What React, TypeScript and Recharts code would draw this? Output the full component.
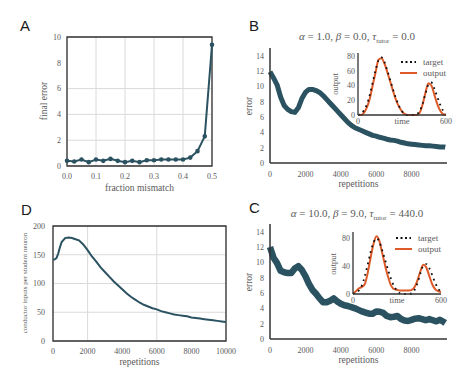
import React from 'react';
import { LineChart, Line, XAxis, YAxis, CartesianGrid, ReferenceArea, Legend } from 'recharts';

// ---- panel A: final error vs fraction mismatch
const mismatch = [0, 0.025, 0.05, 0.075, 0.1, 0.125, 0.15, 0.175, 0.2, 0.225, 0.25, 0.275, 0.3, 0.325, 0.35, 0.375, 0.4, 0.425, 0.45, 0.475, 0.5];
const finalError = [0.4, 0.35, 0.5, 0.3, 0.5, 0.4, 0.55, 0.4, 0.3, 0.4, 0.3, 0.45, 0.45, 0.5, 0.5, 0.5, 0.5, 0.65, 1.15, 2.3, 9.4];
const mismatchTicks = [0, 0.1, 0.2, 0.3, 0.4, 0.5];
const finalErrorTicks = [0, 2, 4, 6, 8, 10];

// ---- panels B and C: error vs repetitions
const repetitions = [0, 200, 400, 600, 800, 1000, 1200, 1400, 1600, 1800, 2000, 2200, 2400, 2600, 2800, 3000, 3200, 3400, 3600, 3800, 4000, 4200, 4400, 4600, 4800, 5000, 5200, 5400, 5600, 5800, 6000, 6200, 6400, 6600, 6800, 7000, 7200, 7400, 7600, 7800, 8000, 8200, 8400, 8600, 8800, 9000, 9200, 9400, 9600, 9800, 9900];
const errorB = [11.9, 11.1, 10.2, 8.6, 7.5, 7.0, 6.7, 6.6, 7.2, 8.4, 9.2, 9.6, 9.6, 9.45, 9.2, 8.8, 8.3, 7.8, 7.3, 6.8, 6.3, 5.8, 5.3, 4.9, 4.6, 4.4, 4.2, 4.0, 3.8, 3.6, 3.5, 3.35, 3.25, 3.1, 3.0, 2.95, 2.85, 2.7, 2.6, 2.5, 2.45, 2.4, 2.35, 2.3, 2.25, 2.25, 2.2, 2.15, 2.1, 2.1, 2.05];
const errorC = [12.0, 10.6, 9.9, 8.9, 8.7, 8.6, 8.6, 9.2, 9.5, 9.0, 8.2, 7.2, 6.4, 5.9, 5.3, 4.8, 4.8, 5.0, 5.3, 4.9, 4.6, 4.4, 4.3, 4.15, 4.0, 3.8, 3.6, 3.45, 3.3, 3.3, 3.6, 3.55, 3.4, 3.0, 2.85, 2.9, 3.0, 2.6, 2.4, 2.35, 2.5, 2.65, 2.7, 2.6, 2.45, 2.6, 2.45, 2.3, 2.5, 2.25, 2.1];
const repTicks = [0, 2000, 4000, 6000, 8000];
const errorTicks = [0, 2, 4, 6, 8, 10, 12, 14];

// ---- insets: target vs output over time
const time = [0, 20, 40, 60, 80, 100, 120, 140, 160, 180, 200, 220, 240, 260, 280, 300, 320, 340, 360, 380, 400, 420, 440, 460, 480, 500, 520, 540, 560, 580, 600];
const targetB = [0, 2, 6, 14, 27, 44, 61, 74, 78, 72, 60, 47, 34, 22, 12, 5, 1, 0, 0, 0, 1, 5, 15, 29, 41, 44, 36, 25, 14, 6, 2];
const outputB = [0, 0, 3, 10, 22, 40, 58, 75, 77, 70, 58, 45, 32, 20, 11, 5, 1, 0, 0, 0, 0, 3, 14, 30, 43, 40, 28, 15, 6, 1, 0];
const targetC = [0, 2, 5, 12, 25, 42, 60, 74, 80, 75, 62, 48, 34, 21, 11, 5, 1, 0, 0, 0, 1, 6, 16, 30, 41, 43, 37, 27, 16, 8, 3];
const outputC = [1, 4, 8, 10, 14, 30, 52, 72, 83, 76, 58, 40, 24, 12, 7, 6, 5, 5, 5, 5, 6, 10, 20, 33, 42, 38, 26, 14, 7, 4, 3];
const timeTicks = [0, 600];
const outputTicks = [0, 20, 40, 60, 80];

// ---- panel D: conductor inputs per student neuron
const repetitionsD = [0, 100, 200, 300, 400, 500, 700, 900, 1100, 1300, 1500, 1750, 2000, 2250, 2500, 2750, 3000, 3250, 3500, 3750, 4000, 4250, 4500, 4750, 5000, 5250, 5500, 5750, 6000, 6250, 6500, 6750, 7000, 7250, 7500, 7750, 8000, 8250, 8500, 8750, 9000, 9250, 9500, 9750, 10000];
const conductorInputs = [141, 142, 144, 152, 163, 172, 179, 180, 179, 177, 175, 168, 158, 147, 138, 128, 120, 112, 104, 97, 90, 83, 77, 72, 67, 63, 60, 57, 55, 52, 50, 48, 46, 45, 44, 43, 41, 40, 39, 38, 37, 36, 35, 34, 33];
const repTicksD = [0, 2000, 4000, 6000, 8000, 10000];
const inputTicks = [0, 50, 100, 150, 200];

const dataA = mismatch.map((x, i) => ({ x, err: finalError[i] }));
const dataB = repetitions.map((x, i) => ({ x, err: errorB[i] }));
const dataC = repetitions.map((x, i) => ({ x, err: errorC[i] }));
const dataD = repetitionsD.map((x, i) => ({ x, n: conductorInputs[i] }));
const insetB = time.map((t, i) => ({ t, target: targetB[i], output: outputB[i] }));
const insetC = time.map((t, i) => ({ t, target: targetC[i], output: outputC[i] }));

const SERIF = '"Liberation Serif", "DejaVu Serif", serif';
const TEXT = '#5a5a5a';
const SPINE = '#333';
const TEAL = '#2b5260';
const ORANGE = '#de5a28';
const GRID = '#dadada';

const tick = { fontSize: 8, fill: TEXT, fontFamily: SERIF };
const axisLabel = (value: string, offset: number) => ({
  value,
  position: 'insideBottom' as const,
  offset,
  fontSize: 9.5,
  fill: TEXT,
  fontFamily: SERIF,
});

const abs = (left: number, top: number): React.CSSProperties => ({ position: 'absolute', left, top });

const Letter = ({ x, y, children }: { x: number; y: number; children: React.ReactNode }) => (
  <div style={{ ...abs(x, y), fontFamily: '"Liberation Sans", Arial, sans-serif', fontSize: 15, lineHeight: '15px', color: '#1a1a1a' }}>
    {children}
  </div>
);

const Centered = ({ x, y, size, rotate, children }: { x: number; y: number; size: number; rotate?: boolean; children: React.ReactNode }) => (
  <div
    style={{
      ...abs(x, y),
      transform: `translate(-50%, -50%)${rotate ? ' rotate(-90deg)' : ''}`,
      whiteSpace: 'nowrap',
      fontFamily: SERIF,
      fontSize: size,
      lineHeight: `${size}px`,
      color: TEXT,
    }}
  >
    {children}
  </div>
);

const Title = ({ x, y, a, b, tau }: { x: number; y: number; a: string; b: string; tau: string }) => (
  <Centered x={x} y={y} size={11}>
    <i>α</i> = {a}, <i>β</i> = {b}, <i>τ</i>
    <sub style={{ fontSize: 7 }}>tutor</sub> = {tau}
  </Centered>
);

const legendOrder = ['target', 'output'];
const InsetLegend = () => (
  <div style={{ fontFamily: SERIF, fontSize: 9, color: TEXT, lineHeight: '10px' }}>
    {legendOrder.map((name) => (
      <div key={name} style={{ display: 'flex', alignItems: 'center', height: 10.5 }}>
        <svg width={18} height={8} style={{ marginRight: 5 }}>
          {name === 'target' ? (
            <line x1={1} y1={4} x2={16} y2={4} stroke="#111" strokeWidth={2} strokeDasharray="2 2.5" />
          ) : (
            <line x1={0} y1={4} x2={17} y2={4} stroke={ORANGE} strokeWidth={2} />
          )}
        </svg>
        {name}
      </div>
    ))}
  </div>
);

const Inset = ({ data, left, top, ymax, legendTop }: { data: any[]; left: number; top: number; ymax: number; legendTop: number }) => (
  <div style={abs(left, top)}>
    <LineChart width={122} height={80} data={data} margin={{ top: 4, right: 14, bottom: 0, left: 0 }}>
      <XAxis
        type="number"
        dataKey="t"
        domain={[0, 600]}
        ticks={timeTicks}
        height={14}
        tickSize={0}
        tickMargin={3}
        tick={tick}
        tickLine={false}
        stroke={SPINE}
        strokeWidth={1.3}
        label={{ ...axisLabel('time', 5), fontSize: 8.5 }}
      />
      <YAxis
        type="number"
        domain={[0, ymax]}
        ticks={outputTicks}
        width={20}
        tickSize={0}
        tickMargin={3}
        tick={tick}
        tickLine={false}
        stroke={SPINE}
        strokeWidth={1.3}
      />
      <Legend layout="vertical" align="center" verticalAlign="middle" wrapperStyle={{ left: 62, top: legendTop, width: 'auto' }} content={() => <InsetLegend />} />
      <Line name="output" type="monotone" dataKey="output" stroke={ORANGE} strokeWidth={2} dot={false} isAnimationActive={false} />
      <Line name="target" type="monotone" dataKey="target" stroke="#111" strokeWidth={1.8} strokeDasharray="1.8 4" dot={false} isAnimationActive={false} />
    </LineChart>
  </div>
);

const ErrorPanel = ({ data, left, top, strokeWidth }: { data: any[]; left: number; top: number; strokeWidth: number }) => (
  <div style={abs(left, top)}>
    <LineChart width={215} height={150} data={data} margin={{ top: 5, right: 8, bottom: 0, left: 0 }}>
      <XAxis
        type="number"
        dataKey="x"
        domain={[0, 10000]}
        ticks={repTicks}
        height={30}
        tickSize={0}
        tickMargin={8}
        tick={tick}
        tickLine={false}
        stroke={SPINE}
        strokeWidth={1.5}
        label={axisLabel('repetitions', 6)}
      />
      <YAxis
        type="number"
        domain={[0, 15]}
        ticks={errorTicks}
        width={30}
        tickSize={0}
        tickMargin={6}
        tick={tick}
        tickLine={false}
        stroke={SPINE}
        strokeWidth={1.5}
      />
      <Line type="linear" dataKey="err" stroke={TEAL} strokeWidth={strokeWidth} strokeLinejoin="round" dot={false} isAnimationActive={false} />
    </LineChart>
  </div>
);

export default function App() {
  return (
    <div style={{ position: 'absolute', left: 0, top: 0, width: 474, height: 387, background: '#fff', overflow: 'hidden' }}>
      {/* A */}
      <div style={abs(35, 32)}>
        <LineChart width={184} height={164} data={dataA} margin={{ top: 5, right: 7, bottom: 0, left: 0 }}>
          <CartesianGrid stroke={GRID} strokeWidth={1} />
          <XAxis
            type="number"
            dataKey="x"
            domain={[0, 0.5]}
            ticks={mismatchTicks}
            tickFormatter={(v: number) => v.toFixed(1)}
            height={30}
            tickSize={0}
            tickMargin={7}
            tick={tick}
            tickLine={false}
            axisLine={false}
            label={axisLabel('fraction mismatch', 5)}
          />
          <YAxis
            type="number"
            domain={[0, 10]}
            ticks={finalErrorTicks}
            width={32}
            tickSize={0}
            tickMargin={6}
            tick={tick}
            tickLine={false}
            axisLine={false}
          />
          <Line type="linear" dataKey="err" stroke={TEAL} strokeWidth={2} dot={{ r: 1.3, fill: TEAL, stroke: TEAL }} isAnimationActive={false} />
          <ReferenceArea x1={0} x2={0.5} y1={0} y2={10} fill="none" stroke={SPINE} strokeWidth={1.3} />
        </LineChart>
      </div>
      <Letter x={20} y={18}>A</Letter>
      <Centered x={45} y={101} size={9.5} rotate>final error</Centered>

      {/* B */}
      <ErrorPanel data={dataB} left={240} top={43} strokeWidth={5} />
      <Inset data={insetB} left={338} top={49} ymax={84} legendTop={8} />
      <Letter x={249} y={18}>B</Letter>
      <Title x={357} y={39} a="1.0" b="0.0" tau="0.0" />
      <Centered x={249.5} y={106} size={9.5} rotate>error</Centered>
      <Centered x={335} y={84} size={8.5} rotate>output</Centered>

      {/* D */}
      <div style={abs(23, 221)}>
        <LineChart width={216} height={150} data={dataD} margin={{ top: 5, right: 13, bottom: 0, left: 0 }}>
          <CartesianGrid stroke={GRID} strokeWidth={1} />
          <XAxis
            type="number"
            dataKey="x"
            domain={[0, 10000]}
            ticks={repTicksD}
            height={30}
            tickSize={0}
            tickMargin={7}
            tick={tick}
            tickLine={false}
            axisLine={false}
            label={axisLabel('repetitions', 6)}
          />
          <YAxis
            type="number"
            domain={[0, 200]}
            ticks={inputTicks}
            width={30}
            tickSize={0}
            tickMargin={8}
            tick={tick}
            tickLine={false}
            axisLine={false}
          />
          <Line type="linear" dataKey="n" stroke={TEAL} strokeWidth={2} dot={false} isAnimationActive={false} />
          <ReferenceArea x1={0} x2={10000} y1={0} y2={200} fill="none" stroke={SPINE} strokeWidth={1.3} />
        </LineChart>
      </div>
      <Letter x={21} y={202}>D</Letter>
      <Centered x={25} y={283} size={7} rotate>conductor inputs per student neuron</Centered>

      {/* C */}
      <ErrorPanel data={dataC} left={240} top={219} strokeWidth={6.5} />
      <Inset data={insetC} left={333} top={228} ymax={89} legendTop={5} />
      <Letter x={249} y={200}>C</Letter>
      <Title x={357} y={216} a="10.0" b="9.0" tau="440.0" />
      <Centered x={249.5} y={282} size={9.5} rotate>error</Centered>
      <Centered x={333} y={264} size={8.5} rotate>output</Centered>
    </div>
  );
}
